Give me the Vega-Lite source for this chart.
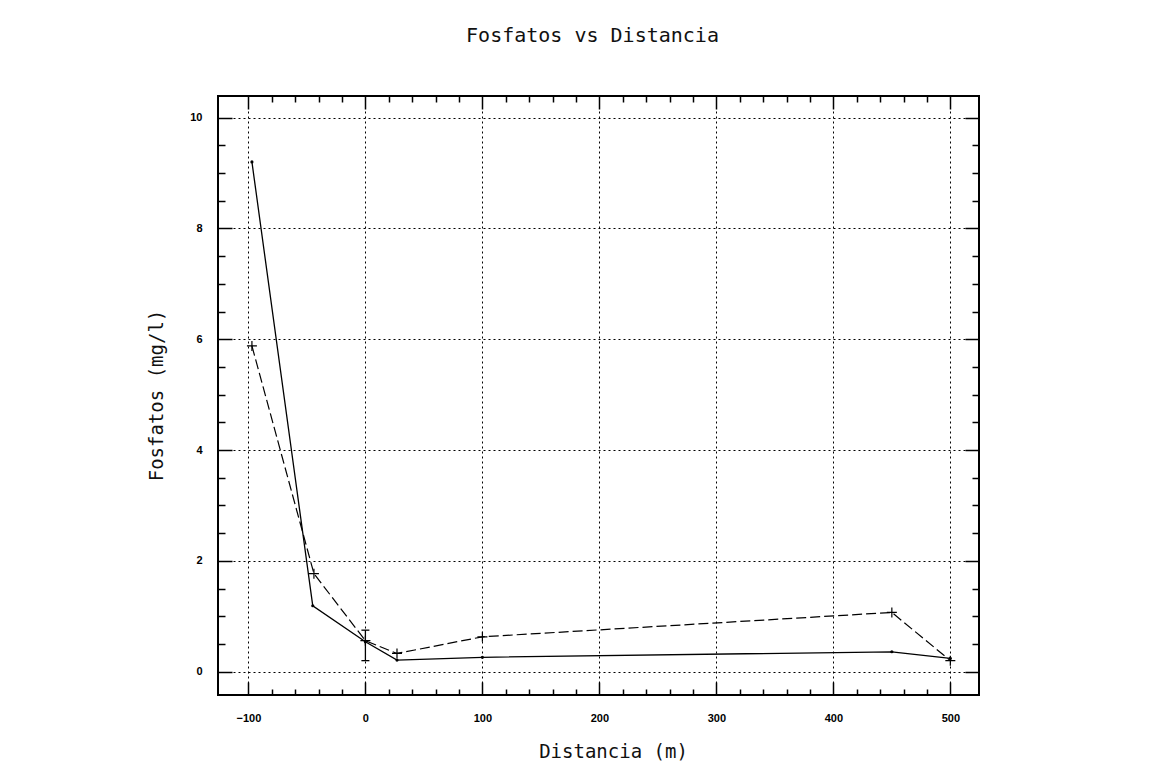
{
  "$schema": "https://vega.github.io/schema/vega-lite/v6.json",
  "width": 761,
  "height": 599,
  "autosize": {"type": "none"},
  "padding": {"left": 218, "top": 96, "right": 175, "bottom": 70},
  "background": "white",
  "title": {"text": "Fosfatos vs Distancia", "font": "DejaVu Sans Mono", "fontSize": 20, "fontWeight": "normal", "color": "#111", "anchor": "middle", "frame": "group", "baseline": "alphabetic", "offset": 33, "dx": -6},
  "config": {"view": {"stroke": "black", "strokeWidth": 2}},
  "datasets": {
    "solid": [
      {"d": -97, "f": 9.2},
      {"d": -45, "f": 1.19},
      {"d": 0, "f": 0.54},
      {"d": 27, "f": 0.21},
      {"d": 100, "f": 0.26},
      {"d": 450, "f": 0.36},
      {"d": 500, "f": 0.24}
    ],
    "dashed": [
      {"d": -97, "f": 5.88},
      {"d": -44, "f": 1.77},
      {"d": 0, "f": 0.56},
      {"d": 27, "f": 0.33},
      {"d": 100, "f": 0.63},
      {"d": 450, "f": 1.07},
      {"d": 500, "f": 0.2}
    ],
    "err": [
      {"d": 0, "lo": 0.2, "hi": 0.75}
    ]
  },
  "resolve": {"axis": {"x": "independent", "y": "independent"}},
  "layer": [
    {
      "data": {"name": "solid"},
      "mark": {"type": "line", "color": "black", "strokeWidth": 1.3},
      "encoding": {
        "x": {
          "field": "d", "type": "quantitative",
          "scale": {"domain": [-126, 524.5], "nice": false, "zero": false},
          "axis": {
            "orient": "bottom",
            "values": [-100,-80,-60,-40,-20,0,20,40,60,80,100,120,140,160,180,200,220,240,260,280,300,320,340,360,380,400,420,440,460,480,500],
            "format": "d",
            "domain": false,
            "tickSize": {"condition": {"test": "datum.value % 100 === 0", "value": -13}, "value": -6},
            "tickColor": "black", "tickWidth": 1.5,
            "labelExpr": "datum.value % 100 === 0 ? datum.label : ''",
            "labelFont": "Liberation Sans", "labelFontWeight": "bold", "labelFontSize": 11, "labelColor": "black",
            "labelPadding": 30, "labelFlush": false, "labelOverlap": false,
            "grid": true, "gridColor": "black", "gridDash": [2, 3], "gridWidth": 1,
            "gridOpacity": {"condition": {"test": "datum.value % 100 === 0", "value": 1}, "value": 0},
            "title": "Distancia (m)", "titleFont": "DejaVu Sans Mono", "titleFontSize": 19, "titleFontWeight": "normal", "titleColor": "#111",
            "titleX": 395, "titleY": 62, "titleBaseline": "alphabetic", "titleAlign": "center"
          }
        },
        "y": {
          "field": "f", "type": "quantitative",
          "scale": {"domain": [-0.42, 10.39], "nice": false, "zero": false},
          "axis": {
            "orient": "left",
            "values": [0,0.5,1,1.5,2,2.5,3,3.5,4,4.5,5,5.5,6,6.5,7,7.5,8,8.5,9,9.5,10],
            "format": "~g",
            "domain": false,
            "tickSize": {"condition": {"test": "datum.value % 2 === 0", "value": -14}, "value": -7},
            "tickColor": "black", "tickWidth": 1.5,
            "labelExpr": "datum.value % 2 === 0 ? datum.label : ''",
            "labelFont": "Liberation Sans", "labelFontWeight": "bold", "labelFontSize": 11, "labelColor": "black",
            "labelPadding": 30, "labelFlush": false, "labelOverlap": false,
            "grid": true, "gridColor": "black", "gridDash": [2, 3], "gridWidth": 1,
            "gridOpacity": {"condition": {"test": "datum.value % 2 === 0", "value": 1}, "value": 0},
            "title": "Fosfatos (mg/l)", "titleFont": "DejaVu Sans Mono", "titleFontSize": 19, "titleFontWeight": "normal", "titleColor": "#111",
            "titleX": -56, "titleY": 299, "titleBaseline": "alphabetic", "titleAlign": "center", "titleAngle": 270
          }
        }
      }
    },
    {
      "data": {"name": "solid"},
      "mark": {"type": "point", "filled": true, "color": "black", "size": 10, "opacity": 1},
      "encoding": {
        "x": {
          "field": "d", "type": "quantitative",
          "axis": {
            "orient": "top",
            "values": [-100,-80,-60,-40,-20,0,20,40,60,80,100,120,140,160,180,200,220,240,260,280,300,320,340,360,380,400,420,440,460,480,500],
            "domain": false, "labels": false, "grid": false, "title": null,
            "tickSize": {"condition": {"test": "datum.value % 100 === 0", "value": -13}, "value": -6},
            "tickColor": "black", "tickWidth": 1.5
          }
        },
        "y": {
          "field": "f", "type": "quantitative",
          "axis": {
            "orient": "right",
            "values": [0,0.5,1,1.5,2,2.5,3,3.5,4,4.5,5,5.5,6,6.5,7,7.5,8,8.5,9,9.5,10],
            "domain": false, "labels": false, "grid": false, "title": null,
            "tickSize": {"condition": {"test": "datum.value % 2 === 0", "value": -14}, "value": -7},
            "tickColor": "black", "tickWidth": 1.5
          }
        }
      }
    },
    {
      "data": {"name": "dashed"},
      "mark": {"type": "line", "color": "black", "strokeWidth": 1.2, "strokeDash": [10, 4]},
      "encoding": {
        "x": {"field": "d", "type": "quantitative", "axis": null},
        "y": {"field": "f", "type": "quantitative", "axis": null}
      }
    },
    {
      "data": {"name": "dashed"},
      "mark": {"type": "point", "shape": "M-1,0H1M0,-1V1", "size": 100, "color": "black", "strokeWidth": 1.2, "opacity": 1},
      "encoding": {
        "x": {"field": "d", "type": "quantitative", "axis": null},
        "y": {"field": "f", "type": "quantitative", "axis": null}
      }
    },
    {
      "data": {"name": "err"},
      "mark": {"type": "rule", "color": "black", "strokeWidth": 1.3},
      "encoding": {
        "x": {"field": "d", "type": "quantitative", "axis": null},
        "y": {"field": "lo", "type": "quantitative", "axis": null},
        "y2": {"field": "hi"}
      }
    },
    {
      "data": {"name": "err"},
      "transform": [{"fold": ["lo", "hi"], "as": ["k", "v"]}],
      "mark": {"type": "point", "shape": "M-1,0H1", "size": 64, "color": "black", "strokeWidth": 1.3, "opacity": 1},
      "encoding": {
        "x": {"field": "d", "type": "quantitative", "axis": null},
        "y": {"field": "v", "type": "quantitative", "axis": null}
      }
    }
  ]
}
